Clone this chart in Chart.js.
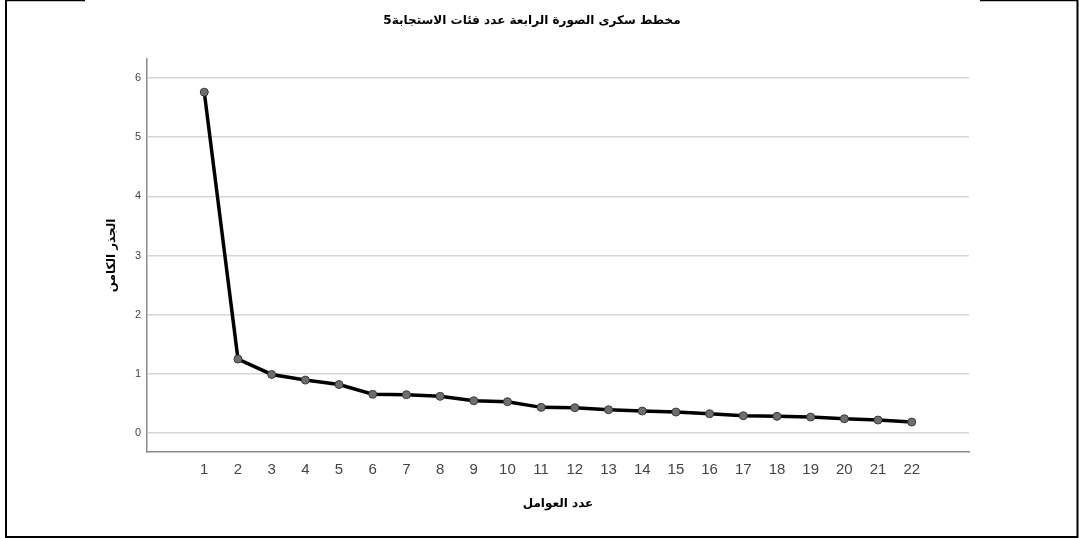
<!DOCTYPE html>
<html lang="ar">
<head>
<meta charset="utf-8">
<title>مخطط سكرى</title>
<script src="https://cdn.jsdelivr.net/npm/chart.js@4/dist/chart.umd.min.js"></script>
<style>
  html, body { margin: 0; padding: 0; background: #ffffff; }
  #wrap { position: relative; width: 1079px; height: 538px; }
  canvas { display: block; }
</style>
</head>
<body>
<div id="wrap"><canvas id="scree" width="1079" height="538"></canvas></div>
<script>
// Factor numbers and their eigenvalues
const factors = [1, 2, 3, 4, 5, 6, 7, 8, 9, 10, 11, 12, 13, 14, 15, 16, 17, 18, 19, 20, 21, 22];
const eigenvalues = [5.76, 1.25, 0.99, 0.895, 0.82, 0.655, 0.648, 0.62, 0.546, 0.53, 0.434, 0.428,
                     0.394, 0.372, 0.355, 0.327, 0.293, 0.282, 0.27, 0.242, 0.22, 0.186];
const yTickValues = [0, 1, 2, 3, 4, 5, 6];

const chartTitle = 'مخطط سكرى الصورة الرابعة عدد فئات الاستجابة5';
const xTitle = 'عدد العوامل';
const yTitle = 'الجذر الكامن';

const arabicFont = '"DejaVu Sans", "Noto Sans", sans-serif';
const latinFont = '"Liberation Sans", Arial, sans-serif';

// Outer frame and the chart heading
const framePlugin = {
  id: 'frameAndHeading',
  afterDraw(chart) {
    const ctx = chart.ctx;
    ctx.save();
    ctx.strokeStyle = '#000000';
    ctx.lineWidth = 2;
    ctx.beginPath();
    ctx.moveTo(6, 0); ctx.lineTo(6, 537); ctx.lineTo(1077.5, 537); ctx.lineTo(1077.5, 0);
    ctx.stroke();
    ctx.beginPath();
    ctx.moveTo(5, 0.5); ctx.lineTo(85, 0.5);
    ctx.moveTo(980, 0.5); ctx.lineTo(1078, 0.5);
    ctx.lineWidth = 1.5;
    ctx.stroke();
    ctx.fillStyle = '#000000';
    ctx.font = 'bold 12px ' + arabicFont;
    ctx.textAlign = 'center';
    ctx.textBaseline = 'middle';
    ctx.fillText(chartTitle, 532, 21);
    ctx.restore();
  }
};

new Chart(document.getElementById('scree'), {
  type: 'line',
  data: {
    datasets: [{
      data: factors.map((f, i) => ({ x: f, y: eigenvalues[i] })),
      borderColor: '#000000',
      borderWidth: 3.5,
      pointRadius: 4,
      pointBackgroundColor: '#6e6e6e',
      pointBorderColor: '#3c3c3c',
      pointBorderWidth: 1,
      tension: 0,
      fill: false
    }]
  },
  options: {
    responsive: false,
    animation: false,
    devicePixelRatio: 1,
    layout: { padding: { left: 0, right: 110, top: 59, bottom: 0 } },
    plugins: {
      legend: { display: false },
      tooltip: { enabled: false },
      title: { display: false }
    },
    scales: {
      x: {
        type: 'linear',
        min: -0.7,
        max: 23.7,
        afterFit(scale) { scale.height = 86; },
        afterBuildTicks(scale) { scale.ticks = factors.map(v => ({ value: v })); },
        grid: { display: false, drawTicks: false },
        border: { display: true, color: '#8a8a8a', width: 1.5 },
        ticks: {
          padding: 9,
          autoSkip: false,
          maxRotation: 0,
          color: '#444444',
          font: { family: latinFont, size: 15 },
          callback: v => String(v)
        },
        title: {
          display: true,
          text: xTitle,
          color: '#000000',
          font: { family: arabicFont, size: 12, weight: 'bold' },
          padding: { top: 0, bottom: 27 }
        }
      },
      y: {
        type: 'linear',
        min: -0.32,
        max: 6.32,
        afterFit(scale) { scale.width = 147; },
        afterBuildTicks(scale) { scale.ticks = yTickValues.map(v => ({ value: v })); },
        grid: { color: '#d6d6d6', lineWidth: 1.6, drawTicks: false },
        border: { display: true, color: '#8a8a8a', width: 1.5 },
        ticks: {
          padding: 6,
          color: '#444444',
          font: { family: latinFont, size: 11 }
        },
        title: {
          display: true,
          text: yTitle,
          color: '#000000',
          font: { family: arabicFont, size: 12, weight: 'bold' },
          padding: { top: 105, bottom: 0 }
        }
      }
    }
  },
  plugins: [framePlugin]
});
</script>
</body>
</html>
